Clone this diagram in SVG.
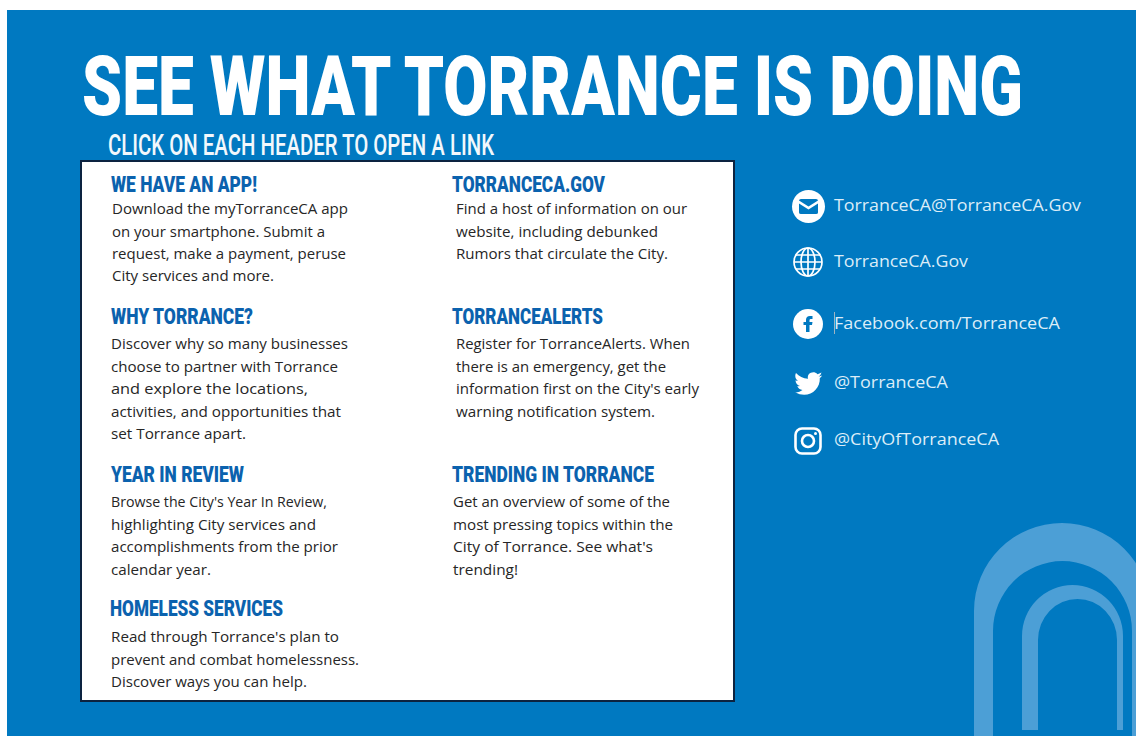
<svg xmlns="http://www.w3.org/2000/svg" width="1136" height="736" viewBox="0 0 1136 736">
<style>
.title{font-family:"Roboto","Liberation Sans",sans-serif;font-weight:900;fill:#fff}
.sub{font-family:"Roboto","Liberation Sans",sans-serif;font-weight:500;fill:#f2f8fc}
.h{font-family:"Roboto","Liberation Sans",sans-serif;font-weight:900;font-size:22px;fill:#0b62ae}
.b{font-family:"Open Sans","Liberation Sans",sans-serif;font-size:14.500px;font-weight:500;fill:#262626}
.c{font-family:"Open Sans","Liberation Sans",sans-serif;font-size:17px;fill:#dcedf8}
.arch{fill:#4c9fd6}
.ico{fill:#fff}
.lin{fill:none;stroke:#fff}
</style>
<rect width="1136" height="736" fill="#fff"/>
<rect x="7" y="10" width="1129" height="726" fill="#0079c1"/>
<g id="arches">
<path class="arch" d="M974 736V611A88 88 0 0 1 1150 611V736H1132V631A69.500 70 0 0 0 993 631V736Z"/>
<path class="arch" d="M1022 730V636A50.500 51 0 0 1 1123 636V730H1117V640A39.500 41 0 0 0 1038 640V730Z"/>
</g>
<g id="heading">
<text class="title" x="82" y="114.500" font-size="84" textLength="941" lengthAdjust="spacingAndGlyphs">SEE WHAT TORRANCE IS DOING</text>
<text class="sub" x="108" y="155" font-size="30" textLength="386" lengthAdjust="spacingAndGlyphs">CLICK ON EACH HEADER TO OPEN A LINK</text>
</g>
<rect id="panel" x="81" y="161" width="653" height="540" fill="#fff" stroke="#0c2340" stroke-width="2"/>
<g id="app">
<text class="h" x="111" y="192" textLength="146" lengthAdjust="spacingAndGlyphs">WE HAVE AN APP!</text>
<text class="b" x="112" y="214" textLength="236" lengthAdjust="spacingAndGlyphs">Download the myTorranceCA app</text>
<text class="b" x="112" y="237" textLength="213" lengthAdjust="spacingAndGlyphs">on your smartphone. Submit a</text>
<text class="b" x="112" y="259" textLength="234" lengthAdjust="spacingAndGlyphs">request, make a payment, peruse</text>
<text class="b" x="112" y="281" textLength="162" lengthAdjust="spacingAndGlyphs">City services and more.</text>
</g>
<g id="why">
<text class="h" x="111" y="324" textLength="142" lengthAdjust="spacingAndGlyphs">WHY TORRANCE?</text>
<text class="b" x="111" y="349" textLength="237" lengthAdjust="spacingAndGlyphs">Discover why so many businesses</text>
<text class="b" x="111" y="372" textLength="227" lengthAdjust="spacingAndGlyphs">choose to partner with Torrance</text>
<text class="b" x="111" y="394" textLength="197" lengthAdjust="spacingAndGlyphs">and explore the locations,</text>
<text class="b" x="111" y="417" textLength="230" lengthAdjust="spacingAndGlyphs">activities, and opportunities that</text>
<text class="b" x="111" y="439" textLength="135" lengthAdjust="spacingAndGlyphs">set Torrance apart.</text>
</g>
<g id="year">
<text class="h" x="111" y="482" textLength="133" lengthAdjust="spacingAndGlyphs">YEAR IN REVIEW</text>
<text class="b" x="111" y="507" textLength="216" lengthAdjust="spacingAndGlyphs">Browse the City's Year In Review,</text>
<text class="b" x="111" y="530" textLength="205" lengthAdjust="spacingAndGlyphs">highlighting City services and</text>
<text class="b" x="111" y="552" textLength="227" lengthAdjust="spacingAndGlyphs">accomplishments from the prior</text>
<text class="b" x="111" y="575" textLength="100" lengthAdjust="spacingAndGlyphs">calendar year.</text>
</g>
<g id="homeless">
<text class="h" x="110" y="616" textLength="173" lengthAdjust="spacingAndGlyphs">HOMELESS SERVICES</text>
<text class="b" x="111" y="642" textLength="228" lengthAdjust="spacingAndGlyphs">Read through Torrance's plan to</text>
<text class="b" x="111" y="665" textLength="248" lengthAdjust="spacingAndGlyphs">prevent and combat homelessness.</text>
<text class="b" x="111" y="687" textLength="196" lengthAdjust="spacingAndGlyphs">Discover ways you can help.</text>
</g>
<g id="gov">
<text class="h" x="452" y="192" textLength="153" lengthAdjust="spacingAndGlyphs">TORRANCECA.GOV</text>
<text class="b" x="456" y="214" textLength="231" lengthAdjust="spacingAndGlyphs">Find a host of information on our</text>
<text class="b" x="456" y="237" textLength="202" lengthAdjust="spacingAndGlyphs">website, including debunked</text>
<text class="b" x="456" y="259" textLength="212" lengthAdjust="spacingAndGlyphs">Rumors that circulate the City.</text>
</g>
<g id="alerts">
<text class="h" x="452" y="324" textLength="151" lengthAdjust="spacingAndGlyphs">TORRANCEALERTS</text>
<text class="b" x="456" y="349" textLength="234" lengthAdjust="spacingAndGlyphs">Register for TorranceAlerts. When</text>
<text class="b" x="456" y="372" textLength="210" lengthAdjust="spacingAndGlyphs">there is an emergency, get the</text>
<text class="b" x="456" y="394" textLength="243" lengthAdjust="spacingAndGlyphs">information first on the City's early</text>
<text class="b" x="456" y="417" textLength="199" lengthAdjust="spacingAndGlyphs">warning notification system.</text>
</g>
<g id="trending">
<text class="h" x="452" y="482" textLength="202" lengthAdjust="spacingAndGlyphs">TRENDING IN TORRANCE</text>
<text class="b" x="453" y="507" textLength="217" lengthAdjust="spacingAndGlyphs">Get an overview of some of the</text>
<text class="b" x="453" y="530" textLength="220" lengthAdjust="spacingAndGlyphs">most pressing topics within the</text>
<text class="b" x="453" y="552" textLength="200" lengthAdjust="spacingAndGlyphs">City of Torrance. See what's</text>
<text class="b" x="453" y="575" textLength="65" lengthAdjust="spacingAndGlyphs">trending!</text>
</g>
<g id="email">
<circle class="ico" cx="808.500" cy="206.500" r="16.500"/>
<path fill="#0079c1" d="M799 200.500Q799 199 801 199H816Q818 199 818 200.500L808.500 206.500ZM799 203.500L808.500 209.500L818 203.500V212.500Q818 214 816 214H801Q799 214 799 212.500Z"/>
<text class="c" x="834" y="211" textLength="247" lengthAdjust="spacingAndGlyphs">TorranceCA@TorranceCA.Gov</text>
</g>
<g id="web">
<g class="lin" stroke-width="1.700">
<circle cx="808" cy="262" r="14"/>
<ellipse cx="808" cy="262" rx="7" ry="14"/>
<path d="M808 248V276M794 262H822M796 255H820M796 269H820"/>
</g>
<text class="c" x="834" y="267" textLength="134" lengthAdjust="spacingAndGlyphs">TorranceCA.Gov</text>
</g>
<g id="facebook">
<circle class="ico" cx="808" cy="324" r="15"/>
<path fill="#0079c1" d="M806 332V325H803.500V322H806V319.800Q806 316 810 316H812.500V319H810.800Q809.500 319 809.500 320.300V322H812.500L812 325H809.500V332Z"/>
<rect x="834" y="312" width="1" height="22" fill="#9fb4c2"/>
<text class="c" x="834" y="329" textLength="226" lengthAdjust="spacingAndGlyphs">Facebook.com/TorranceCA</text>
</g>
<g id="twitter">
<path class="ico" d="M822 375.500Q819.500 376.500 818.500 376.700Q821 375 821.500 372.500Q819.300 373.800 817.500 374.200C813.500 370 806.500 373.500 808 378.800C803 378.500 799 376.500 796 373C794.500 376 795.500 379 798 381Q796.500 381 795.500 380.300C795.500 383.300 797.500 385.300 800 386Q798.500 386.300 797.300 386C798 388.300 800 389.800 802.500 390Q799 392.800 795 392.300C808 399.500 820.500 390 819.800 378Q821.300 377 822 375.500Z"/>
<text class="c" x="834" y="388" textLength="114" lengthAdjust="spacingAndGlyphs">@TorranceCA</text>
</g>
<g id="instagram">
<g class="lin" stroke-width="2.600">
<rect x="795.500" y="428.500" width="25" height="25" rx="6.500"/>
<circle cx="808" cy="441" r="6"/>
</g>
<circle class="ico" cx="815.500" cy="433.500" r="1.500"/>
<text class="c" x="834" y="445" textLength="165" lengthAdjust="spacingAndGlyphs">@CityOfTorranceCA</text>
</g>
</svg>
